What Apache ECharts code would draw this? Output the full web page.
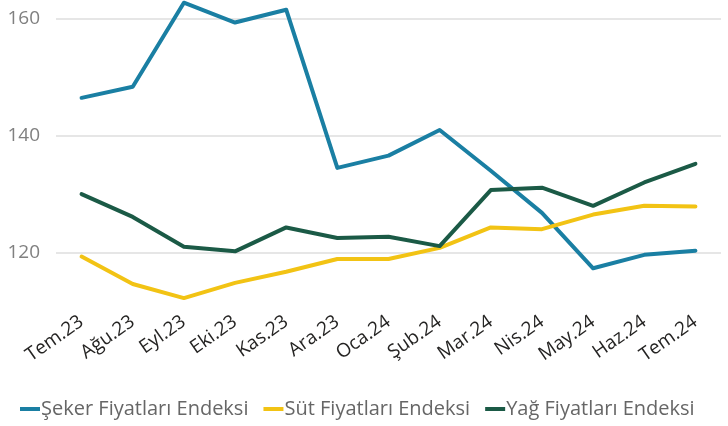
<!DOCTYPE html>
<html>
<head>
<meta charset="utf-8">
<script src="https://cdn.jsdelivr.net/npm/echarts@6/dist/echarts.min.js"></script>
<style>
  html, body { margin: 0; padding: 0; background: #fff; }
  #chart { width: 728px; height: 426px; }
</style>
</head>
<body>
<div id="chart"></div>
<script>
// Monthly price indices, July 2023 - July 2024
const months = ['Tem.23', 'Ağu.23', 'Eyl.23', 'Eki.23', 'Kas.23', 'Ara.23', 'Oca.24',
                'Şub.24', 'Mar.24', 'Nis.24', 'May.24', 'Haz.24', 'Tem.24'];
const sugarIndex = [146.5, 148.4, 162.8, 159.4, 161.6, 134.5, 136.6, 141.0, 134.0, 126.8, 117.3, 119.6, 120.3];
const dairyIndex = [119.3, 114.6, 112.2, 114.8, 116.7, 118.9, 118.9, 120.8, 124.3, 124.0, 126.5, 128.0, 127.9];
const oilIndex   = [130.0, 126.1, 121.0, 120.2, 124.3, 122.5, 122.7, 121.1, 130.7, 131.1, 128.0, 132.0, 135.2];
const shownTicks = [120, 140, 160];

const seriesNames = ['Şeker Fiyatları Endeksi', 'Süt Fiyatları Endeksi', 'Yağ Fiyatları Endeksi'];
const colors = ['#1A7FA3', '#F2C314', '#1B5A46'];
const values = [sugarIndex, dairyIndex, oilIndex];

const chart = echarts.init(document.getElementById('chart'), null, { renderer: 'canvas' });

chart.setOption({
  animation: false,
  color: colors,
  grid: { left: 56, right: 7, top: 0, bottom: 115.1, containLabel: false },
  legend: {
    bottom: 2,
    left: 15,
    itemWidth: 20,
    itemHeight: 4,
    itemGap: 15,
    icon: 'rect',
    textStyle: { fontFamily: 'Open Sans', fontSize: 20, color: '#666666', padding: [0, 0, 0, -4] },
    data: seriesNames
  },
  xAxis: {
    type: 'category',
    data: months,
    boundaryGap: true,
    axisLine: { show: false },
    axisTick: { show: false },
    axisLabel: {
      rotate: 35,
      margin: 9,
      fontFamily: 'Open Sans',
      fontSize: 19,
      color: '#252423',
      interval: 0
    }
  },
  yAxis: {
    type: 'value',
    min: 110,
    max: 163.26,
    interval: 10,
    axisLine: { show: false },
    axisTick: { show: false },
    axisLabel: {
      margin: 16,
      fontFamily: 'Open Sans',
      fontSize: 19,
      color: '#808080',
      formatter: v => (shownTicks.includes(v) ? String(v) : '')
    },
    splitLine: {
      lineStyle: { color: ['rgba(0,0,0,0)', '#E6E6E6'], width: 2 }
    }
  },
  series: seriesNames.map((name, i) => ({
    name,
    type: 'line',
    data: values[i],
    symbol: 'none',
    clip: false,
    lineStyle: { width: 4, color: colors[i], cap: 'round', join: 'round' },
    itemStyle: { color: colors[i] }
  }))
});
</script>
</body>
</html>
